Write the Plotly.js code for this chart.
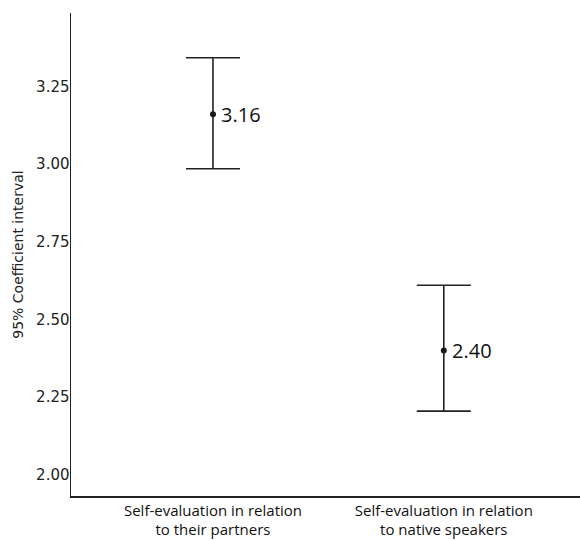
<!DOCTYPE html>
<html>
<head>
<meta charset="utf-8">
<script src="https://cdn.plot.ly/plotly-3.0.1.min.js"></script>
<style>html,body{margin:0;padding:0;background:#fff;}#chart{width:580px;height:540px;}</style>
</head>
<body>
<div id="chart"></div>
<script>
var categories = ["Self-evaluation in relation<br>to their partners", "Self-evaluation in relation<br>to native speakers"];
var means = [3.16, 2.40];
var lower = [2.985, 2.205];
var upper = [3.342, 2.61];
var meanLabels = ["3.16", "2.40"];
var yTicks = [2.00, 2.25, 2.50, 2.75, 3.00, 3.25];
var yTickLabels = ["2.00", "2.25", "2.50", "2.75", "3.00", "3.25"];

var xs = categories.map(function(_, i){ return i; });
var trace = {
  type: "scatter",
  mode: "markers",
  x: xs,
  y: means,
  marker: {color: "#1a1a1a", size: 6},
  error_y: {
    type: "data",
    symmetric: false,
    array: means.map(function(m, i){ return upper[i] - m; }),
    arrayminus: means.map(function(m, i){ return m - lower[i]; }),
    color: "#222",
    thickness: 1.6,
    width: 27
  },
  hoverinfo: "none"
};

var annotations = means.map(function(m, i){
  return {x: xs[i], y: m, xref: "x", yref: "y", text: meanLabels[i], showarrow: false,
          xanchor: "left", yanchor: "middle", xshift: 6,
          font: {family: "Open Sans, sans-serif", size: 20, color: "#111"}};
});

var layout = {
  width: 580, height: 540,
  margin: {l: 71, r: 0, t: 13, b: 44},
  paper_bgcolor: "#fff", plot_bgcolor: "#fff",
  showlegend: false,
  xaxis: {
    range: [-0.615, 1.59],
    tickvals: xs, ticktext: categories,
    showgrid: false, zeroline: false, showline: true, linecolor: "#222", linewidth: 1.5,
    ticks: "", tickfont: {family: "Open Sans, sans-serif", size: 15, color: "#111"}
  },
  yaxis: {
    range: [1.932, 3.486],
    tickvals: yTicks, ticktext: yTickLabels,
    showgrid: false, zeroline: false, showline: true, linecolor: "#222", linewidth: 1.5,
    ticks: "", ticklabelstandoff: -3,
    tickfont: {family: "DejaVu Sans, sans-serif", size: 15, color: "#222"},
    title: {text: "95% Coefficient interval", font: {family: "DejaVu Sans, sans-serif", size: 14, color: "#222"}, standoff: 9}
  },
  annotations: annotations
};

Plotly.newPlot("chart", [trace], layout, {displayModeBar: false, staticPlot: true});
</script>
</body>
</html>
